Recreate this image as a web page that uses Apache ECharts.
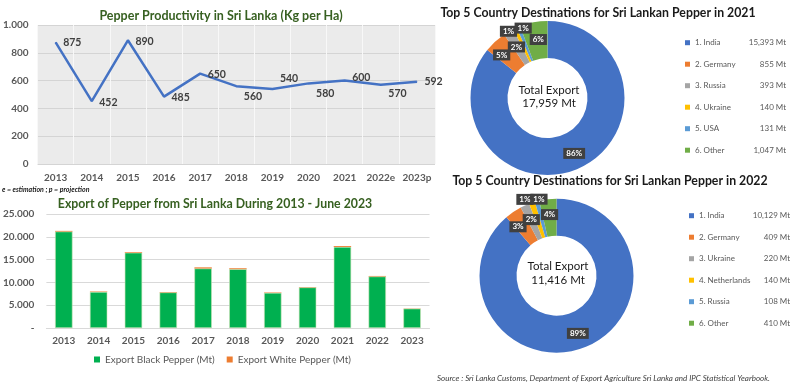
<!DOCTYPE html>
<html><head><meta charset="utf-8">
<script src="https://cdn.jsdelivr.net/npm/echarts@6/dist/echarts.min.js"></script>
<style>html,body{margin:0;padding:0;background:#fff}#c{width:800px;height:384px}</style>
</head><body><div id="c"></div>
<script>
const prodYears = ['2013','2014','2015','2016','2017','2018','2019','2020','2021','2022e','2023p'];
const productivity = [875,452,890,485,650,560,540,580,600,570,592];

const exportYears = ['2013','2014','2015','2016','2017','2018','2019','2020','2021','2022','2023'];
const blackPepper = [21150,7900,16500,7800,13050,12900,7700,8900,17760,11300,4250];
const whitePepper = [150,100,150,100,250,200,100,80,200,116,50];

const dest2021Names = ['1. India','2. Germany','3. Russia','4. Ukraine','5. USA','6. Other'];
const dest2021Values = [15393,855,393,140,131,1047];
const dest2021Pct = ['86%','5%','2%','1%','1%','6%'];

const dest2022Names = ['1. India','2. Germany','3. Ukraine','4. Netherlands','5. Russia','6. Other'];
const dest2022Values = [10129,409,220,140,108,410];
const dest2022Pct = ['89%','3%','2%','1%','1%','4%'];

const sliceColors = ['#4472c4','#ed7d31','#a5a5a5','#ffc000','#5b9bd5','#70ad47'];
const FONT = 'Lato, "Open Sans", sans-serif';
const lineLabelShift = [0,1,1,1,1,10,-10,10,-3,9,0];
const pieShift2021 = [[0,0],[-4,2],[0,2],[-13,-11],[-1,-13],[2,2]];
const pieShift2022 = [[0,0],[-4,2],[0,0],[-12,-18],[-2,-17],[0,0]];

function dotThousands(v){ return String(v).replace(/\B(?=(\d{3})+(?!\d))/g, '.'); }
function dotThousandsDash(v){ return v === 0 ? '-' : dotThousands(v); }
function commaThousands(v){ return String(v).replace(/\B(?=(\d{3})+(?!\d))/g, ','); }

const chart = echarts.init(document.getElementById('c'), null, {renderer:'canvas'});

function pieSeries(names, values, pct, center, shifts){
  return {
    type:'pie', center:center, radius:[40,77], startAngle:90, clockwise:true,
    avoidLabelOverlap:false, silent:true,
    itemStyle:{borderWidth:0},
    label:{show:true, position:'inside', fontFamily:FONT, fontSize:8, fontWeight:'bold', color:'#fff',
      backgroundColor:'#404040', padding:[2,3,1,3],
      formatter:p=>pct[p.dataIndex]},
    labelLine:{show:false},
    labelLayout:p=>({dx:shifts[p.dataIndex][0], dy:shifts[p.dataIndex][1]}),
    emphasis:{disabled:true},
    data:names.map((n,i)=>({name:n, value:values[i], itemStyle:{color:sliceColors[i]}}))
  };
}
function pieLegend(names, values, left, top){
  return {
    orient:'vertical', left:left, top:top, padding:0, itemWidth:5, itemHeight:5, itemGap:13.5, icon:'rect',
    selectedMode:false, data:names,
    formatter:n=>{ const v = values[names.indexOf(n)]; return '{n|'+n+'}{v|'+commaThousands(v)+' Mt}'; },
    textStyle:{fontFamily:FONT, color:'#595959', fontSize:8,
      rich:{n:{width:56, fontSize:8, color:'#595959', fontFamily:FONT},
            v:{width:35, align:'right', fontSize:8, color:'#595959', fontFamily:FONT}}}
  };
}

const option = {
  animation:false,
  textStyle:{fontFamily:FONT},
  title:[
    {text:'Pepper Productivity in Sri Lanka (Kg per Ha)', left:221, top:9, textAlign:'center', padding:0,
      textStyle:{fontFamily:FONT, fontSize:12.5, fontWeight:'bold', color:'#376021'}},
    {text:'Export of Pepper from Sri Lanka During 2013 - June 2023', left:215, top:198, textAlign:'center', padding:0,
      textStyle:{fontFamily:FONT, fontSize:12.3, fontWeight:'bold', color:'#376021'}},
    {text:'Top 5 Country Destinations for Sri Lankan Pepper in 2021', left:598, top:7, textAlign:'center', padding:0,
      textStyle:{fontFamily:FONT, fontSize:12.3, fontWeight:'bold', color:'#1a1a1a'}},
    {text:'Top 5 Country Destinations for Sri Lankan Pepper in 2022', left:610, top:175, textAlign:'center', padding:0,
      textStyle:{fontFamily:FONT, fontSize:12.3, fontWeight:'bold', color:'#1a1a1a'}},
    {text:'Total Export\n'+commaThousands(dest2021Values.reduce((a,b)=>a+b,0))+' Mt', left:549, top:83.5, textAlign:'center', padding:0,
      textStyle:{fontFamily:FONT, fontSize:11.5, fontWeight:'normal', color:'#1a1a1a', lineHeight:13}},
    {text:'Total Export\n'+commaThousands(dest2022Values.reduce((a,b)=>a+b,0))+' Mt', left:558, top:259.5, textAlign:'center', padding:0,
      textStyle:{fontFamily:FONT, fontSize:11.5, fontWeight:'normal', color:'#1a1a1a', lineHeight:14}},
    {text:'e = estimation ; p = projection', left:2, top:186, padding:0,
      textStyle:{fontFamily:FONT, fontSize:7, fontWeight:'bold', fontStyle:'italic', color:'#1a1a1a'}},
    {text:'Source : Sri Lanka Customs, Department of Export Agriculture Sri Lanka and IPC Statistical Yearbook.', left:437, top:374, padding:0,
      textStyle:{fontFamily:FONT, fontSize:8, fontWeight:'normal', fontStyle:'italic', color:'#404040'}}
  ],
  grid:[
    {left:37, right:365, top:25, bottom:220, show:true, backgroundColor:'#ebebeb', borderWidth:0},
    {left:44.5, right:370.5, top:214, bottom:56}
  ],
  xAxis:[
    {type:'category', gridIndex:0, data:prodYears, boundaryGap:true,
      axisLine:{show:false}, axisTick:{show:false},
      splitLine:{show:true, interval:0, lineStyle:{color:'#f8f8f8', width:1}},
      axisLabel:{margin:9, fontSize:10, fontWeight:'bold', color:'#595959', fontFamily:FONT, interval:0}},
    {type:'category', gridIndex:1, data:exportYears, boundaryGap:true,
      axisLine:{show:true, lineStyle:{color:'#d9d9d9'}}, axisTick:{show:false},
      axisLabel:{margin:8, fontSize:10, fontWeight:'bold', color:'#595959', fontFamily:FONT, interval:0}}
  ],
  yAxis:[
    {type:'value', gridIndex:0, min:0, max:1000, interval:200,
      axisLine:{show:false}, axisTick:{show:false},
      splitLine:{lineStyle:{color:'#d4d4d4'}},
      axisLabel:{margin:9, fontSize:10, fontWeight:'bold', color:'#595959', fontFamily:FONT, formatter:dotThousands}},
    {type:'value', gridIndex:1, min:0, max:25000, interval:5000,
      axisLine:{show:false}, axisTick:{show:false},
      splitLine:{lineStyle:{color:'#d9d9d9'}},
      axisLabel:{margin:12, fontSize:10, fontWeight:'bold', color:'#595959', fontFamily:FONT, formatter:dotThousandsDash}}
  ],
  legend:[
    {left:94, top:354.5, padding:0, itemWidth:6, itemHeight:6, itemGap:12, icon:'rect', selectedMode:false,
      itemStyle:{borderWidth:0},
      data:['Export Black Pepper (Mt)','Export White Pepper (Mt)'],
      textStyle:{fontFamily:FONT, fontSize:10, color:'#595959'}},
    pieLegend(dest2021Names, dest2021Values, 685, 38.7),
    pieLegend(dest2022Names, dest2022Values, 689, 211.7)
  ],
  series:[
    {type:'line', xAxisIndex:0, yAxisIndex:0, data:productivity, symbol:'circle', symbolSize:1, showSymbol:true, silent:true,
      lineStyle:{color:'#4472c4', width:2.5}, itemStyle:{color:'#4472c4'},
      label:{show:true, position:'right', distance:7, fontFamily:FONT, fontSize:10.5, fontWeight:'bold', color:'#404040',
        formatter:p=>p.value},
      labelLayout:p=>({dy:lineLabelShift[p.dataIndex]})},
    {type:'bar', name:'Export Black Pepper (Mt)', xAxisIndex:1, yAxisIndex:1, stack:'exp', data:blackPepper,
      barWidth:'50%', silent:true, itemStyle:{color:'#00b050', borderColor:'#c9e3b4', borderWidth:0.6}},
    {type:'bar', name:'Export White Pepper (Mt)', xAxisIndex:1, yAxisIndex:1, stack:'exp', data:whitePepper,
      barWidth:'50%', silent:true, itemStyle:{color:'#ed7d31'}},
    pieSeries(dest2021Names, dest2021Values, dest2021Pct, [547.5,98], pieShift2021),
    pieSeries(dest2022Names, dest2022Values, dest2022Pct, [556.5,275.7], pieShift2022)
  ]
};
chart.setOption(option);
</script></body></html>
